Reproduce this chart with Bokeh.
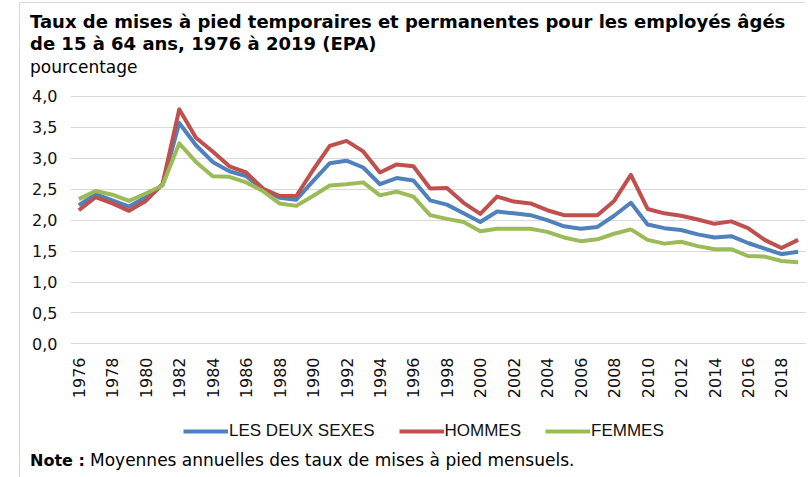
import math
from bokeh.plotting import figure
from bokeh.models import (Legend, LegendItem, FixedTicker, Div,
                          CustomJSTickFormatter, Range1d)
from bokeh.layouts import column
from bokeh.embed import file_html
from bokeh.resources import INLINE

# ---------------- data ----------------
years = list(range(1976, 2020))
deux_sexes = [2.24, 2.42, 2.32, 2.22, 2.37, 2.57, 3.57, 3.21, 2.94, 2.79, 2.71,
              2.50, 2.36, 2.33, 2.63, 2.92, 2.96, 2.85, 2.58, 2.68, 2.64, 2.32,
              2.25, 2.11, 1.97, 2.14, 2.11, 2.08, 2.00, 1.90, 1.86, 1.89, 2.07,
              2.28, 1.93, 1.87, 1.84, 1.77, 1.72, 1.74, 1.63, 1.54, 1.45, 1.49]
hommes = [2.16, 2.37, 2.27, 2.15, 2.31, 2.58, 3.79, 3.33, 3.11, 2.87, 2.77,
          2.51, 2.39, 2.39, 2.81, 3.20, 3.28, 3.11, 2.77, 2.90, 2.87, 2.51,
          2.52, 2.28, 2.10, 2.38, 2.30, 2.27, 2.16, 2.08, 2.08, 2.08, 2.31,
          2.73, 2.18, 2.11, 2.07, 2.01, 1.94, 1.98, 1.87, 1.68, 1.55, 1.68]
femmes = [2.34, 2.47, 2.41, 2.31, 2.43, 2.56, 3.24, 2.94, 2.71, 2.70, 2.61,
          2.47, 2.27, 2.23, 2.39, 2.56, 2.58, 2.61, 2.40, 2.46, 2.38, 2.08,
          2.02, 1.97, 1.82, 1.86, 1.86, 1.86, 1.81, 1.72, 1.66, 1.69, 1.78,
          1.85, 1.68, 1.62, 1.65, 1.58, 1.53, 1.53, 1.42, 1.41, 1.34, 1.32]
x_ticks = list(range(1976, 2019, 2))
y_ticks = [0.0, 0.5, 1.0, 1.5, 2.0, 2.5, 3.0, 3.5, 4.0]

series_names = ["LES DEUX SEXES", "HOMMES", "FEMMES"]
series_colors = ["#4f81bd", "#c0504d", "#9bbb59"]

title_1 = "Taux de mises à pied temporaires et permanentes pour les employés âgés"
title_2 = "de 15 à 64 ans, 1976 à 2019 (EPA)"
y_unit = "pourcentage"
note_bold = "Note :"
note_text = "Moyennes annuelles des taux de mises à pied mensuels."

FONT = "'DejaVu Sans', sans-serif"

# ---------------- header (title + unit) ----------------
header_html = f"""
<div style="position:relative;width:808px;height:80px;color:#000;font-family:{FONT};">
  <div style="position:absolute;left:19px;top:2px;width:786px;height:0;border-top:1px solid #d9d9d9;"></div>
  <div style="position:absolute;left:19px;top:2px;width:0;height:475px;border-left:1px solid #d9d9d9;"></div>
  <div style="position:absolute;left:30px;top:12.8px;white-space:nowrap;font-weight:bold;font-size:18px;line-height:18px;">{title_1}</div>
  <div style="position:absolute;left:30px;top:34.8px;white-space:nowrap;font-weight:bold;font-size:18px;line-height:18px;">{title_2}</div>
  <div style="position:absolute;left:30px;top:58.6px;white-space:nowrap;font-size:17px;line-height:17px;">{y_unit}</div>
</div>
"""
header = Div(text=header_html, width=808, height=80, margin=0,
             styles={"overflow": "visible"})

# ---------------- main figure ----------------
p = figure(width=808, height=325,
           x_range=Range1d(1975.5, 2019.5), y_range=Range1d(-0.01, 4.03),
           output_backend="svg", toolbar_location=None, title=None,
           min_border_left=70, min_border_right=2,
           min_border_top=14, min_border_bottom=61, margin=0)
p.outline_line_color = None
p.background_fill_color = "white"
p.border_fill_alpha = 0

p.xgrid.visible = False
p.ygrid.grid_line_color = "#d9d9d9"
p.ygrid.grid_line_width = 1
p.ygrid.ticker = FixedTicker(ticks=y_ticks)

p.yaxis.ticker = FixedTicker(ticks=y_ticks)
p.yaxis.formatter = CustomJSTickFormatter(code="return tick.toFixed(1).replace('.', ',');")
p.yaxis.axis_line_color = None
p.yaxis.major_tick_line_color = None
p.yaxis.major_tick_out = 0
p.yaxis.minor_tick_line_color = None
p.yaxis.minor_tick_out = 0
p.yaxis.major_label_text_font = "DejaVu Sans"
p.yaxis.major_label_text_font_size = "16px"
p.yaxis.major_label_text_color = "#111111"
p.yaxis.major_label_standoff = 13

p.xaxis.ticker = FixedTicker(ticks=x_ticks)
p.xaxis.axis_line_color = None
p.xaxis.major_tick_line_color = None
p.xaxis.major_tick_out = 0
p.xaxis.minor_tick_line_color = None
p.xaxis.minor_tick_out = 0
p.xaxis.major_label_orientation = math.pi / 2
p.xaxis.major_label_text_font = "DejaVu Sans"
p.xaxis.major_label_text_font_size = "16px"
p.xaxis.major_label_text_color = "#111111"
p.xaxis.major_label_standoff = 13

series = [deux_sexes, hommes, femmes]
for vals, col in zip(series, series_colors):
    p.line(years, vals, line_color=col, line_width=4, line_join="round")

# ---------------- legend strip ----------------
# (its frame is aligned with the main frame by the column layout;
#  the series are drawn outside its visible range so only the legend shows)
pl = figure(width=808, height=40, x_range=Range1d(0, 1), y_range=Range1d(0, 1),
            output_backend="svg", toolbar_location=None, title=None,
            x_axis_location=None, y_axis_location=None,
            min_border_left=0, min_border_right=0, min_border_top=0,
            min_border_bottom=0, margin=0)
pl.xgrid.visible = False
pl.ygrid.visible = False
pl.outline_line_color = None
pl.background_fill_alpha = 0
pl.border_fill_alpha = 0
leg_renderers = [pl.line(years, vals, line_color=c, line_width=4)
                 for vals, c in zip(series, series_colors)]
legend = Legend(items=[LegendItem(label=n, renderers=[r]) for n, r in zip(series_names, leg_renderers)],
                orientation="horizontal", location=(113, 4),
                glyph_width=45, glyph_height=20, label_height=20, label_standoff=1,
                spacing=24, padding=0, margin=0,
                label_text_font="Liberation Sans", label_text_font_size="17px",
                label_text_color="#111111",
                border_line_color=None, background_fill_alpha=0)
pl.add_layout(legend, "center")

# ---------------- note ----------------
note_html = f"""
<div style="position:relative;width:808px;height:30px;color:#000;font-family:{FONT};font-size:17px;line-height:17px;">
  <div style="position:absolute;left:30px;top:6.6px;white-space:nowrap;font-size:16px;"><b>{note_bold}</b></div>
  <div style="position:absolute;left:90px;top:6.6px;white-space:nowrap;">{note_text}</div>
</div>
"""
note = Div(text=note_html, width=808, height=30, margin=0,
           styles={"overflow": "visible"})

layout = column(header, p, pl, note, spacing=0, margin=0)
open("out.html", "w").write(file_html(layout, INLINE))
